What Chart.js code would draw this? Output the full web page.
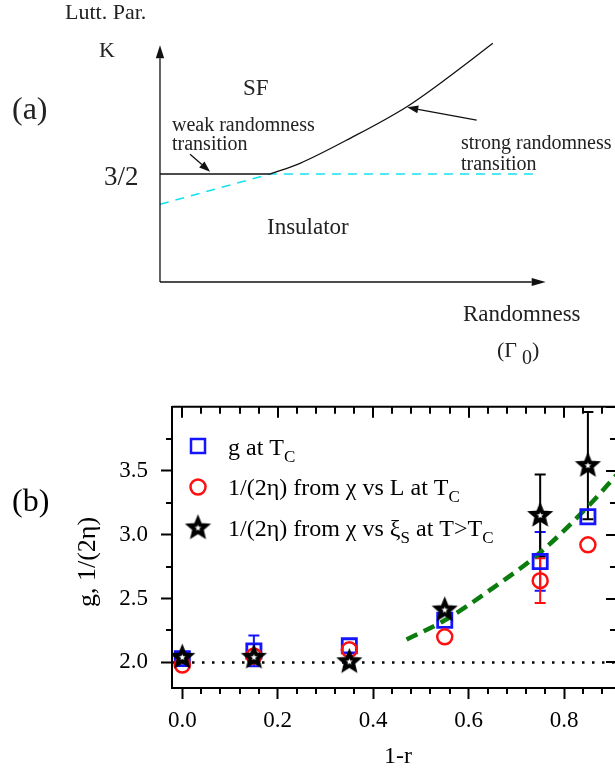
<!DOCTYPE html>
<html>
<head>
<meta charset="utf-8">
<script src="https://cdn.jsdelivr.net/npm/chart.js@4.4.1/dist/chart.umd.min.js"></script>
<style>
    html, body { margin: 0; padding: 0; background: #fff; overflow: hidden; }
    #wrapA { position: absolute; left: 0; top: 0; width: 615px; height: 380px; }
    #wrapB { position: absolute; left: 0; top: 380px; width: 617px; height: 391px; }
</style>
</head>
<body>
<div id="wrapA"><canvas id="phase-diagram" width="615" height="380"></canvas></div>
<div id="wrapB"><canvas id="scaling-chart" width="617" height="391"></canvas></div>
<script>
// ---- panel (a): schematic phase diagram, K vs randomness Gamma0 ----
const weakLineX = [0, 0.285];
const weakLineY = [1.5, 1.5];
const strongCurveX = [0.285, 0.363, 0.493, 0.640, 0.752, 0.863];
const strongCurveY = [1.5, 1.649, 1.996, 2.435, 2.861, 3.315];
const cyanLineX = [0, 0.285, 0.972];
const cyanLineY = [1.079, 1.5, 1.5];
const kAxisTop = 3.29;
const gammaAxisEnd = 1.0;
// arrows: [x0, y0, x1, y1] pointing towards (x1, y1)
const weakArrow = [0.078, 1.774, 0.130, 1.532];
const strongArrow = [0.821, 2.25, 0.641, 2.426];

// ---- panel (b): g and 1/(2 eta) vs 1-r ----
const xVals = [0, 0.15, 0.35, 0.55, 0.75, 0.85];
const gTc = [2.03, 2.09, 2.13, 2.33, 2.79, 3.14];
const gTcErr = [0, 0.12, 0, 0, 0.23, 0];
const chiL = [1.98, 2.05, 2.10, 2.20, 2.64, 2.92];
const chiLErr = [0, 0, 0, 0, 0.175, 0];
const chiXi = [2.04, 2.04, 2.005, 2.41, 3.15, 3.54];
const chiXiErr = [0, 0, 0, 0, 0.32, 0.42];
const fitX = [0.47, 0.55, 0.65, 0.75, 0.85, 0.911];
const fitY = [2.18, 2.33, 2.58, 2.86, 3.22, 3.47];
const refLevel = 2.0;
const xTicks = [0, 0.2, 0.4, 0.6, 0.8];
const yTicks = [2.0, 2.5, 3.0, 3.5];

const X_MIN = -0.0216, X_MAX = 0.911;
const Y_MIN = 1.8, Y_MAX = 4.0;
const SERIF = '"Liberation Serif", "Times New Roman", serif';

function toPoints(xs, ys) {
    return xs.map((x, i) => ({ x: x, y: ys[i] }));
}

function drawArrow(ctx, x0, y0, x1, y1, len, half) {
    const ang = Math.atan2(y1 - y0, x1 - x0);
    const bx = x1 - len * Math.cos(ang), by = y1 - len * Math.sin(ang);
    ctx.beginPath();
    ctx.moveTo(x0, y0);
    ctx.lineTo(bx, by);
    ctx.stroke();
    ctx.beginPath();
    ctx.moveTo(x1, y1);
    ctx.lineTo(bx + half * Math.sin(ang), by - half * Math.cos(ang));
    ctx.lineTo(bx - half * Math.sin(ang), by + half * Math.cos(ang));
    ctx.closePath();
    ctx.fill();
}

function text(ctx, str, x, y, size, align) {
    ctx.font = size + 'px ' + SERIF;
    ctx.textAlign = align || 'left';
    ctx.fillText(str, x, y);
    return ctx.measureText(str).width;
}

const diagramPlugin = {
    id: 'diagram',
    afterDatasetsDraw(chart) {
        const { ctx, scales: { x, y } } = chart;
        ctx.save();
        ctx.strokeStyle = '#111';
        ctx.fillStyle = '#111';
        ctx.lineWidth = 1.3;
        // axes with arrow heads
        drawArrow(ctx, x.getPixelForValue(0), y.getPixelForValue(0), x.getPixelForValue(0), y.getPixelForValue(kAxisTop), 13, 4.2);
        drawArrow(ctx, x.getPixelForValue(0), y.getPixelForValue(0), x.getPixelForValue(gammaAxisEnd), y.getPixelForValue(0), 14, 4);
        [weakArrow, strongArrow].forEach(a => {
            drawArrow(ctx, x.getPixelForValue(a[0]), y.getPixelForValue(a[1]), x.getPixelForValue(a[2]), y.getPixelForValue(a[3]), 11, 4);
        });

        ctx.fillStyle = '#222';
        ctx.textBaseline = 'alphabetic';
        text(ctx, 'Lutt. Par.', 65, 19, 22);
        text(ctx, 'K', 99, 57, 22);
        text(ctx, '(a)', 12, 119, 32);
        text(ctx, 'SF', 243, 95, 23);
        text(ctx, 'weak randomness', 172, 131, 20);
        text(ctx, 'transition', 172, 150, 20);
        text(ctx, '3/2', 104, 185, 27);
        text(ctx, 'strong randomness', 461, 149, 20);
        text(ctx, 'transition', 461, 170, 20);
        text(ctx, 'Insulator', 267, 234, 23);
        text(ctx, 'Randomness', 463, 321, 23);
        text(ctx, '(\u0393', 497, 357, 22);
        text(ctx, '0', 522, 364, 20);
        text(ctx, ')', 532, 357, 22);
        ctx.restore();
    }
};

new Chart(document.getElementById('phase-diagram'), {
    type: 'scatter',
    data: {
        datasets: [
            {
                data: toPoints(cyanLineX, cyanLineY),
                showLine: true, borderColor: '#12e2f0', borderWidth: 1.5,
                borderDash: [9, 7], pointRadius: 0, order: 2
            },
            {
                data: toPoints(weakLineX, weakLineY),
                showLine: true, borderColor: '#111', borderWidth: 1.3, pointRadius: 0, order: 1
            },
            {
                data: toPoints(strongCurveX, strongCurveY),
                showLine: true, borderColor: '#111', borderWidth: 1.3, pointRadius: 0,
                cubicInterpolationMode: 'monotone', order: 0
            }
        ]
    },
    options: {
        responsive: false,
        animation: false,
        events: [],
        layout: { padding: 0, autoPadding: false },
        plugins: { legend: { display: false }, tooltip: { enabled: false } },
        scales: {
            x: { type: 'linear', display: false, min: -0.4148, max: 1.1797 },
            y: { type: 'linear', display: false, min: -1.361, max: 3.917 }
        }
    },
    plugins: [diagramPlugin]
});

// five pointed star marker, black outline with white centre
function makeStar(outer, inner, lw) {
    const c = document.createElement('canvas');
    const size = Math.ceil(2 * outer + 2 * lw + 4);
    c.width = size; c.height = size;
    const g = c.getContext('2d');
    g.translate(size / 2, size / 2);
    g.beginPath();
    for (let i = 0; i < 10; i++) {
        const r = i % 2 === 0 ? outer : inner;
        const a = -Math.PI / 2 + i * Math.PI / 5;
        g.lineTo(r * Math.cos(a), r * Math.sin(a));
    }
    g.closePath();
    g.fillStyle = '#fff';
    g.fill();
    g.lineWidth = lw;
    g.lineJoin = 'miter';
    g.strokeStyle = '#000';
    g.stroke();
    return c;
}
const starImg = makeStar(8.5, 3.8, 4);

const BLUE = '#1414ff', RED = '#ff1010', GREEN = '#0b7d0f';

const errorSets = [
    { ys: gTc, err: gTcErr, color: BLUE },
    { ys: chiL, err: chiLErr, color: RED },
    { ys: chiXi, err: chiXiErr, color: '#000' }
];

const framePlugin = {
    id: 'frame',
    beforeDatasetsDraw(chart) {
        const { ctx, scales: { x, y } } = chart;
        ctx.save();
        ctx.lineWidth = 2;
        errorSets.forEach(s => {
            ctx.strokeStyle = s.color;
            xVals.forEach((xv, i) => {
                if (!s.err[i]) return;
                const px = x.getPixelForValue(xv);
                const top = y.getPixelForValue(s.ys[i] + s.err[i]);
                const bot = y.getPixelForValue(s.ys[i] - s.err[i]);
                ctx.beginPath();
                ctx.moveTo(px, top); ctx.lineTo(px, bot);
                ctx.moveTo(px - 5.5, top); ctx.lineTo(px + 5.5, top);
                ctx.moveTo(px - 5.5, bot); ctx.lineTo(px + 5.5, bot);
                ctx.stroke();
            });
        });
        ctx.restore();
    },
    afterDraw(chart) {
        const { ctx, chartArea: a, scales: { x, y } } = chart;
        ctx.save();
        ctx.strokeStyle = '#000';
        ctx.lineWidth = 2;
        ctx.beginPath();
        ctx.moveTo(a.left, a.top); ctx.lineTo(a.right, a.top); ctx.lineTo(a.right, a.bottom);
        ctx.stroke();
        // ticks: minor outside on bottom/left, all inside on top/right
        ctx.beginPath();
        for (let k = 0; k * 0.04 <= X_MAX; k++) {
            const px = Math.round(x.getPixelForValue(k * 0.04));
            const major = k % 5 === 0;
            if (!major) { ctx.moveTo(px, a.bottom); ctx.lineTo(px, a.bottom + 6); }
            ctx.moveTo(px, a.top); ctx.lineTo(px, a.top + (major ? 11 : 7));
        }
        for (let k = 0; 2.0 + k * 0.25 <= Y_MAX; k++) {
            const py = Math.round(y.getPixelForValue(2.0 + k * 0.25));
            const major = k % 2 === 0;
            if (!major) { ctx.moveTo(a.left, py); ctx.lineTo(a.left - 6, py); }
            ctx.moveTo(a.right, py); ctx.lineTo(a.right - (major ? 11 : 7), py);
        }
        ctx.stroke();

        // legend
        const lx = 198;
        const rows = [75, 115, 156];
        ctx.lineWidth = 2.5;
        ctx.strokeStyle = BLUE;
        ctx.strokeRect(lx - 7, rows[0] - 16, 14, 14);
        ctx.strokeStyle = RED;
        ctx.beginPath();
        ctx.arc(lx, rows[1] - 8, 7.5, 0, 2 * Math.PI);
        ctx.stroke();
        ctx.drawImage(starImg, lx - starImg.width / 2, rows[2] - 8 - starImg.height / 2);

        ctx.fillStyle = '#000';
        ctx.textBaseline = 'alphabetic';
        const legendRows = [
            [['g at T', 0], ['C', 1]],
            [['1/(2\u03b7) from \u03c7 vs L at T', 0], ['C', 1]],
            [['1/(2\u03b7) from \u03c7 vs \u03be', 0], ['S', 1], [' at T>T', 0], ['C', 1]]
        ];
        legendRows.forEach((parts, r) => {
            let cx = 228;
            parts.forEach(p => {
                if (p[1]) cx += text(ctx, p[0], cx, rows[r] + 7, 17);
                else cx += text(ctx, p[0], cx, rows[r], 24);
            });
        });

        // titles and panel label
        text(ctx, '1-r', 398, 383, 24, 'center');
        ctx.save();
        ctx.translate(95, 182);
        ctx.rotate(-Math.PI / 2);
        text(ctx, 'g, 1/(2\u03b7)', 0, 0, 26, 'center');
        ctx.restore();
        text(ctx, '(b)', 12, 131, 32);
        ctx.restore();
    }
};

new Chart(document.getElementById('scaling-chart'), {
    type: 'scatter',
    data: {
        datasets: [
            {
                label: '1/(2\u03b7) from \u03c7 vs \u03be_S at T>T_C',
                data: toPoints(xVals, chiXi),
                pointStyle: starImg, order: 0
            },
            {
                label: '1/(2\u03b7) from \u03c7 vs L at T_C',
                data: toPoints(xVals, chiL),
                pointStyle: 'circle', pointRadius: 7.5,
                pointBorderColor: RED, pointBackgroundColor: 'transparent', pointBorderWidth: 2.5, order: 1
            },
            {
                label: 'g at T_C',
                data: toPoints(xVals, gTc),
                pointStyle: 'rect', pointRadius: 10,
                pointBorderColor: BLUE, pointBackgroundColor: 'transparent', pointBorderWidth: 2.8, order: 2
            },
            {
                label: 'fit',
                data: toPoints(fitX, fitY),
                showLine: true, borderColor: GREEN, borderWidth: 4.5, borderDash: [12, 7],
                pointRadius: 0, cubicInterpolationMode: 'monotone', order: 3
            },
            {
                label: 'g = 2',
                data: toPoints([X_MIN, X_MAX], [refLevel, refLevel]),
                showLine: true, borderColor: '#000', borderWidth: 2.5, borderDash: [2.5, 7.5],
                pointRadius: 0, order: 4
            }
        ]
    },
    options: {
        responsive: false,
        animation: false,
        events: [],
        layout: { padding: { top: 17, right: 0, left: 0, bottom: 0 }, autoPadding: false },
        plugins: { legend: { display: false }, tooltip: { enabled: false } },
        scales: {
            x: {
                type: 'linear', position: 'bottom', min: X_MIN, max: X_MAX,
                afterBuildTicks: s => { s.ticks = xTicks.map(v => ({ value: v })); },
                afterFit: s => { s.height = 83; },
                ticks: {
                    callback: v => v.toFixed(1), color: '#000', padding: 8,
                    font: { family: SERIF, size: 23 }, maxRotation: 0, autoSkip: false
                },
                grid: { drawOnChartArea: false, tickLength: 11, tickWidth: 2, color: '#000' },
                border: { color: '#000', width: 2 }
            },
            y: {
                type: 'linear', position: 'left', min: Y_MIN, max: Y_MAX,
                afterBuildTicks: s => { s.ticks = yTicks.map(v => ({ value: v })); },
                afterFit: s => { s.width = 172; },
                ticks: {
                    callback: v => v.toFixed(1), color: '#000', padding: 13,
                    font: { family: SERIF, size: 23 }
                },
                grid: { drawOnChartArea: false, tickLength: 11, tickWidth: 2, color: '#000' },
                border: { color: '#000', width: 2 }
            }
        }
    },
    plugins: [framePlugin]
});
</script>
</body>
</html>
